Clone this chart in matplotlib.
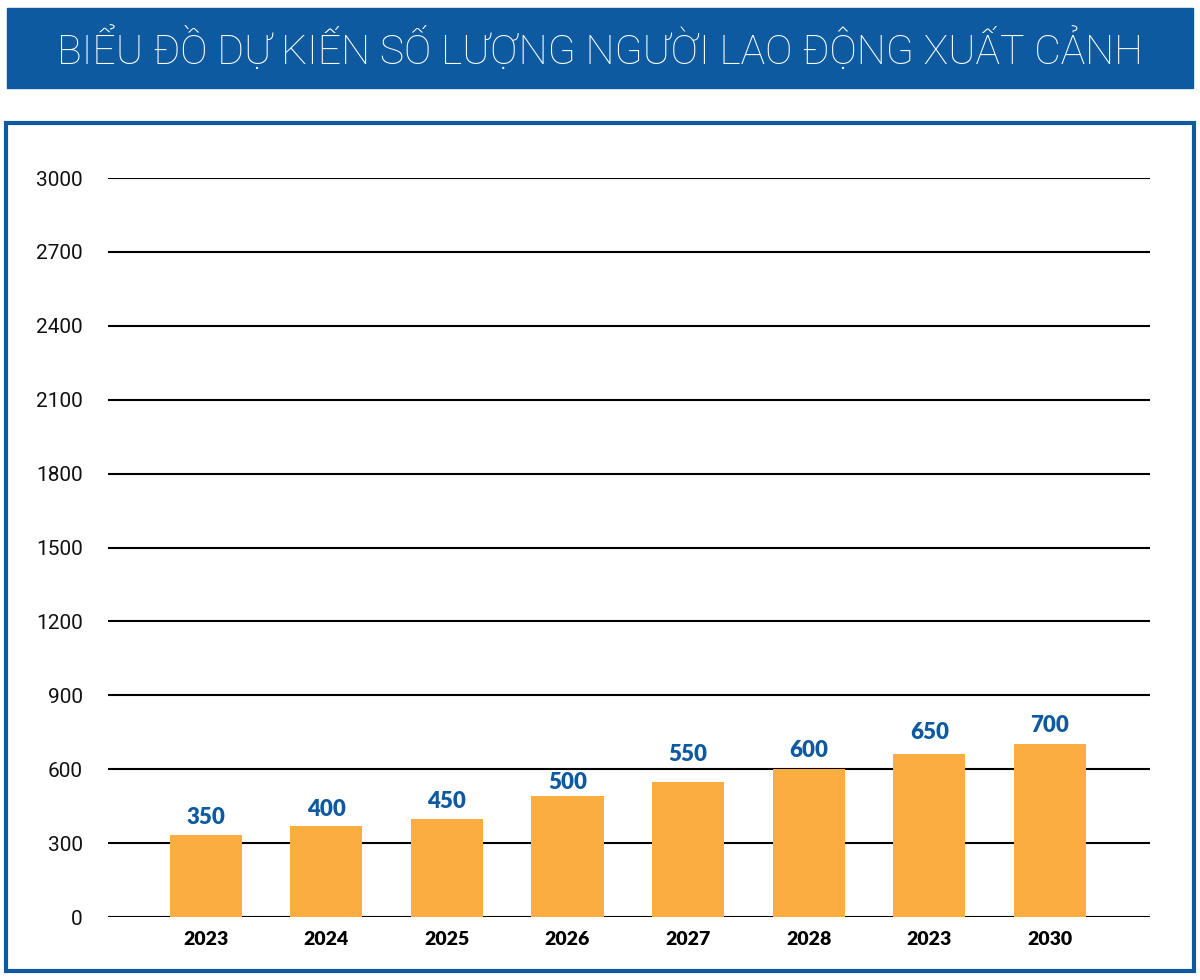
import matplotlib
matplotlib.use("Agg")
import matplotlib.pyplot as plt
from matplotlib.patches import Rectangle

# data
years = ["2023", "2024", "2025", "2026", "2027", "2028", "2023", "2030"]
bar_heights = [332, 369, 397, 493, 547, 601, 663, 702]
value_labels = ["350", "400", "450", "500", "550", "600", "650", "700"]
yticks = [0, 300, 600, 900, 1200, 1500, 1800, 2100, 2400, 2700, 3000]
title = "BIỂU ĐỒ DỰ KIẾN SỐ LƯỢNG NGƯỜI LAO ĐỘNG XUẤT CẢNH"

# how far each value label sits above its bar (pixels, label centre)
label_gap = [18, 17, 18, 13, 28, 18, 21, 19]

blue = "#0E5AA0"
orange = "#FBAE3F"

fig = plt.figure(figsize=(12, 9.8), dpi=100)
W, H = 1200, 980

# title banner
fig.patches.append(Rectangle((7 / W, 1 - 88 / H), 1186 / W, 80 / H,
                             transform=fig.transFigure, color=blue, zorder=0))
fig.text(0.5, 1 - 50 / H, title, color="white", fontsize=29.5, family="Roboto",
         weight="light", ha="center", va="center")

# chart frame
fig.patches.append(Rectangle((6 / W, 1 - 971 / H), 1188 / W, 848 / H,
                             transform=fig.transFigure, fill=False,
                             edgecolor=blue, linewidth=3, zorder=0))

ax = fig.add_axes([108 / W, 1 - 917 / H, 1042 / W, 739 / H])
x = range(len(years))
ax.bar(x, bar_heights, width=0.6, color=orange, zorder=3)
ax.set_ylim(0, 3000)
ax.set_xlim(-0.81, 7.83)
ax.set_yticks(yticks)
ax.set_yticklabels([str(t) for t in yticks], fontsize=15, family="Roboto",
                   color="#111111")
ax.set_xticks(list(x))
ax.set_xticklabels(years, fontsize=14, weight="heavy", family="Lato")
ax.tick_params(axis="both", length=0)
ax.tick_params(axis="y", pad=18)
ax.tick_params(axis="x", pad=10)
for s in ax.spines.values():
    s.set_visible(False)
ax.grid(axis="y", color="black", linewidth=1.5, zorder=1)
ax.set_axisbelow(True)

for xi, h, lab, g in zip(x, bar_heights, value_labels, label_gap):
    ax.annotate(lab, (xi, h), xytext=(0, g * 0.72), textcoords="offset points",
                ha="center", va="center", color=blue, fontsize=16,
                weight="heavy", family="Lato", zorder=5)

fig.savefig("out.png", dpi=100)
